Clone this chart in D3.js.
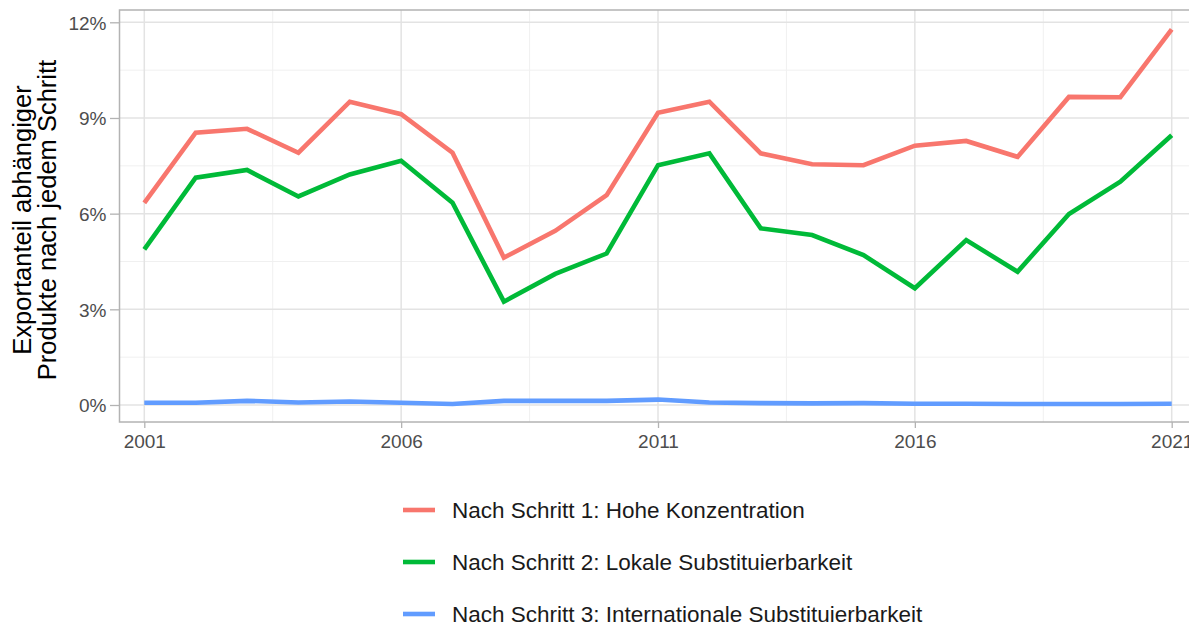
<!DOCTYPE html>
<html>
<head>
<meta charset="utf-8">
<script src="https://cdn.jsdelivr.net/npm/d3@7"></script>
<style>
  body { margin: 0; background: #fff; }
  svg { display: block; font-family: "Liberation Sans", Arial, sans-serif; }
</style>
</head>
<body>
<div id="chart"></div>
<script>
'use strict';

// data (share in %)
var years = d3.range(2001, 2022);
var step1 = [6.34, 8.54, 8.66, 7.91, 9.51, 9.12, 7.91, 4.62, 5.46, 6.58, 9.16,
             9.51, 7.89, 7.55, 7.52, 8.13, 8.28, 7.78, 9.66, 9.65, 11.78];
var step2 = [4.88, 7.13, 7.37, 6.54, 7.23, 7.66, 6.34, 3.24, 4.11, 4.75, 7.52,
             7.89, 5.54, 5.33, 4.70, 3.66, 5.17, 4.18, 5.99, 7.00, 8.46];
var step3 = [0.07, 0.07, 0.13, 0.08, 0.11, 0.07, 0.03, 0.13, 0.13, 0.13, 0.17,
             0.08, 0.06, 0.05, 0.06, 0.04, 0.04, 0.03, 0.03, 0.03, 0.04];
var seriesNames = ['Nach Schritt 1: Hohe Konzentration',
                   'Nach Schritt 2: Lokale Substituierbarkeit',
                   'Nach Schritt 3: Internationale Substituierbarkeit'];
var seriesColors = ['#f8766d', '#00ba38', '#619cff'];
var yTicks = [0, 3, 6, 9, 12];
var yMinor = [1.5, 4.5, 7.5, 10.5];
var xTicks = [2001, 2006, 2011, 2016, 2021];
var xMinor = [2003.5, 2008.5, 2013.5, 2018.5];

var W = 1189, H = 623;
var panel = { left: 119.5, top: 10, right: 1197, bottom: 422 };

var x = d3.scaleLinear().domain([2001, 2021]).range([144.3, 1171.7]);
var y = d3.scaleLinear().domain([0, 12]).range([405, 22.3]);

var svg = d3.select('#chart').append('svg')
    .attr('width', W)
    .attr('height', H);

var grid = svg.append('g');
grid.selectAll('line.ymin').data(yMinor).enter().append('line')
    .attr('x1', panel.left).attr('x2', panel.right)
    .attr('y1', y).attr('y2', y)
    .attr('stroke', '#f0f0f0').attr('stroke-width', 1);
grid.selectAll('line.xmin').data(xMinor).enter().append('line')
    .attr('y1', panel.top).attr('y2', panel.bottom)
    .attr('x1', x).attr('x2', x)
    .attr('stroke', '#f0f0f0').attr('stroke-width', 1);
grid.selectAll('line.ymaj').data(yTicks).enter().append('line')
    .attr('x1', panel.left).attr('x2', panel.right)
    .attr('y1', y).attr('y2', y)
    .attr('stroke', '#e3e3e3').attr('stroke-width', 1.5);
grid.selectAll('line.xmaj').data(xTicks).enter().append('line')
    .attr('y1', panel.top).attr('y2', panel.bottom)
    .attr('x1', x).attr('x2', x)
    .attr('stroke', '#e3e3e3').attr('stroke-width', 1.5);

var line = d3.line()
    .x(function(d, i) { return x(years[i]); })
    .y(function(d) { return y(d); });

svg.append('g').selectAll('path')
    .data([step1, step2, step3])
    .enter()
    .append('path')
    .attr('d', line)
    .attr('fill', 'none')
    .attr('stroke', function(d, i) { return seriesColors[i]; })
    .attr('stroke-width', 4.6)
    .attr('stroke-linejoin', 'miter');

svg.append('rect')
    .attr('x', panel.left).attr('y', panel.top)
    .attr('width', panel.right - panel.left)
    .attr('height', panel.bottom - panel.top)
    .attr('fill', 'none')
    .attr('stroke', '#b3b3b3')
    .attr('stroke-width', 1.5);

// axes
var yAxis = svg.append('g')
    .attr('transform', 'translate(' + panel.left + ',0)')
    .call(d3.axisLeft(y).tickValues(yTicks)
        .tickFormat(function(d) { return d + '%'; })
        .tickSize(9.5).tickPadding(3.5));
var xAxis = svg.append('g')
    .attr('transform', 'translate(0,' + panel.bottom + ')')
    .call(d3.axisBottom(x).tickValues(xTicks)
        .tickFormat(d3.format('d'))
        .tickSize(6).tickPadding(7));
[yAxis, xAxis].forEach(function(a) {
    a.select('.domain').remove();
    a.selectAll('.tick line').attr('stroke', '#b3b3b3').attr('stroke-width', 1.3);
    a.selectAll('.tick text')
        .attr('fill', '#4d4d4d')
        .attr('font-size', 19)
        .attr('font-family', '"Liberation Sans", Arial, sans-serif');
});
yAxis.selectAll('.tick text').attr('dy', '0.36em');

// y title
var yTitle = svg.append('text')
    .attr('transform', 'translate(31,220) rotate(-90)')
    .attr('text-anchor', 'middle')
    .attr('font-size', 25.5)
    .attr('fill', '#000');
yTitle.append('tspan').attr('x', 0).attr('dy', 0).text('Exportanteil abhängiger');
yTitle.append('tspan').attr('x', 0).attr('dy', 25).text('Produkte nach jedem Schritt');

// legend
var legend = svg.append('g').selectAll('g')
    .data(seriesNames)
    .enter()
    .append('g')
    .attr('transform', function(d, i) { return 'translate(403,' + (510 + i * 52) + ')'; });
legend.append('line')
    .attr('x1', 0).attr('x2', 32)
    .attr('stroke', function(d, i) { return seriesColors[i]; })
    .attr('stroke-width', 4.6);
legend.append('text')
    .attr('x', 49)
    .attr('dy', '0.36em')
    .attr('font-size', 22.5)
    .attr('fill', '#1a1a1a')
    .text(function(d) { return d; });
</script>
</body>
</html>
